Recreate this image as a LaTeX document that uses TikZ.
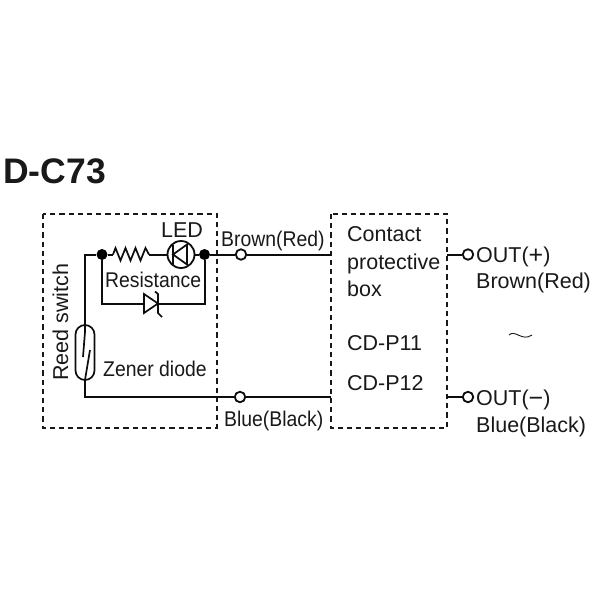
\documentclass[tikz,border=0pt]{standalone}
\usepackage{fontspec}
\setmainfont{Liberation Sans}
\newfontfamily\narrowfam[FakeStretch=0.91]{Liberation Sans}
\begin{document}
\begin{tikzpicture}[x=1pt,y=-1pt,
  wire/.style={line width=2pt,draw=black!95},
  thin wire/.style={line width=1.7pt,draw=black!95},
  dashbox/.style={draw=black!90,line width=1.8pt,dash pattern=on 5.2pt off 4pt},
  lbl/.style={font=\fontsize{21.5}{21.5}\selectfont,text=black!90,inner sep=0pt,anchor=base west},
  lbls/.style={font=\narrowfam\fontsize{21.3}{21.3}\selectfont,text=black!90,inner sep=0pt,anchor=base west},
  dotj/.style={circle,fill=black,draw=none,minimum size=11pt,inner sep=0pt},
  term/.style={circle,fill=white,draw=black!95,line width=1.8pt,minimum size=10.5pt,inner sep=0pt}]
\useasboundingbox (0,0) rectangle (600,600);
\fill[white] (0,0) rectangle (600,600);
% coordinates
\coordinate (c1) at (85,254.5);
\coordinate (reedT) at (85,325);
\coordinate (reedB) at (85,380);
\coordinate (c2) at (85,397);
\node[dotj] (j1) at (102,254.5) {};
\node[dotj] (j2) at (204.5,254.5) {};
\coordinate (rA) at (113,254.5);
\coordinate (rB) at (149,254.5);
\node[circle,draw=black!95,line width=1.8pt,minimum size=27pt,inner sep=0pt] (led) at (181,254.5) {};
\coordinate (z1) at (102,304);
\coordinate (z2) at (204.5,304);
\coordinate (boxT) at (331,254.5);
\coordinate (boxB) at (331,397);
\coordinate (boxR) at (447,254.5);
\coordinate (boxS) at (447,397);
\node[term] (tA) at (241,254.5) {};
\node[term] (tB) at (240,397) {};
\node[term] (tC) at (468,254.5) {};
\node[term] (tD) at (468,397) {};
% boxes
\draw[dashbox] (43,214) rectangle (217,428);
\draw[dashbox] (331,214) rectangle (447,428);
% wires
\draw[wire] (reedT) -- (c1) -- (j1) -- (rA);
\draw[thin wire,line join=miter] (rA) -- (115.5,248) -- (120.5,260.5) -- (125.5,248) -- (130.5,260.5) -- (135.5,248) -- (140.5,260.5) -- (145.5,248) -- (rB);
\draw[wire] (rB) -- (led);
\draw[wire] (led) -- (j2);
\draw[wire] (j2) -- (tA);
\draw[wire] (tA) -- (boxT);
\draw[wire] (j1) -- (z1) -- (144,304);
\draw[wire] (158,304) -- (z2) -- (j2);
\draw[wire] (reedB) -- (c2) -- (tB);
\draw[wire] (tB) -- (boxB);
\draw[wire] (boxR) -- (tC);
\draw[wire] (boxS) -- (tD);
% LED symbol
\draw[thin wire] (173,244.5) -- (173,264.5);
\draw[thin wire,line join=miter] (187,244.5) -- (173,254.5) -- (187,264.5) -- cycle;
% Zener
\draw[thin wire,line join=miter] (144,294) -- (158,303.5) -- (144,313) -- cycle;
\draw[thin wire] (155,291.5) -- (158,294) -- (158,313) -- (162,317);
% reed switch
\draw[thin wire,rounded corners=9.5pt] (75.5,325) rectangle (94.5,380);
\draw[thin wire] (85,325) -- (85,332) -- (83,357);
\draw[thin wire] (90,350) -- (85,380);
% text
\node[lbl,font=\bfseries\fontsize{35.5}{35.5}\selectfont] (title) at (3,183) {D-C73};
\node[lbl] (led t) at (161,237) {LED};
\node[lbls] (res) at (105,287) {Resistance};
\node[lbls] (zen) at (103,376) {Zener diode};
\node[lbl,rotate=90] (reed) at (68,381) {Reed switch};
\node[lbls] (br) at (221,246) {Brown(Red)};
\node[lbls] (bl) at (224,426) {Blue(Black)};
\node[lbl] (cb1) at (347,241) {Contact};
\node[lbl] (cb2) at (347,269) {protective};
\node[lbl] (cb3) at (347,296) {box};
\node[lbl] (p1) at (347,350) {CD-P11};
\node[lbl] (p2) at (347,390) {CD-P12};
\node[lbl] (o1) at (476,262) {OUT({\fontsize{25}{25}\selectfont\raisebox{-0.04em}{+}})};
\node[lbl] (o1b) at (476,288) {Brown(Red)};
\node[lbl] (o2) at (476,405) {OUT({\fontsize{25}{25}\selectfont\raisebox{-0.04em}{−}})};
\node[lbl] (o2b) at (476,432) {Blue(Black)};
\draw[line width=0.9pt,draw=black!90] (509,335) .. controls (515,329) and (522,342) .. (532,335);
\end{tikzpicture}
\end{document}
